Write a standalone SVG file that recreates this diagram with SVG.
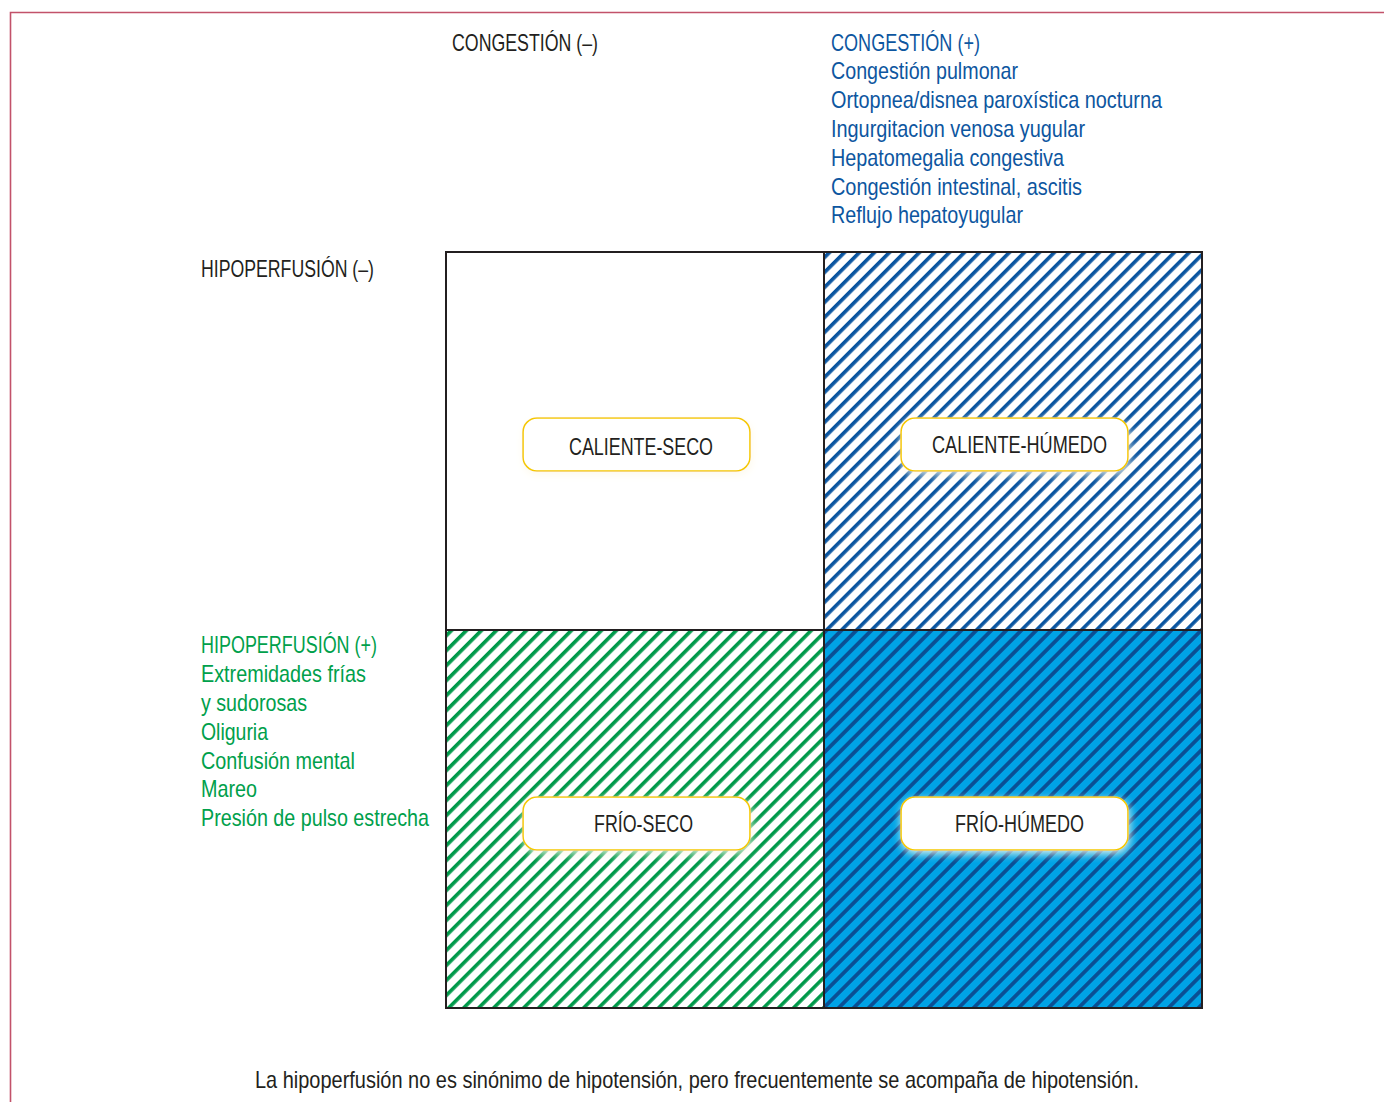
<svg xmlns="http://www.w3.org/2000/svg" width="1384" height="1102" viewBox="0 0 1384 1102">
<style>
text{font-family:"Liberation Sans",Arial,sans-serif;font-size:24px}
.k{fill:#231f20}
.b{fill:#0d56a0}
.g{fill:#00a04b}
.lbl{fill:#231f20;text-anchor:middle}
.box{fill:#ffffff;stroke:#f5c900;stroke-width:1.6;filter:url(#glow)}
.grid{fill:none;stroke:#231f20;stroke-width:2}
</style>
<defs>
<pattern id="hBlue" patternUnits="userSpaceOnUse" width="10.6" height="10.6" patternTransform="rotate(45)">
<rect width="10.6" height="10.6" fill="#ffffff"/>
<rect width="3.6" height="10.6" fill="#0a55a0"/>
</pattern>
<pattern id="hGreen" patternUnits="userSpaceOnUse" width="10.6" height="10.6" patternTransform="rotate(45)">
<rect width="10.6" height="10.6" fill="#ffffff"/>
<rect width="3.6" height="10.6" fill="#00994a"/>
</pattern>
<pattern id="hDark" patternUnits="userSpaceOnUse" width="10.6" height="10.6" patternTransform="rotate(45)">
<rect width="10.6" height="10.6" fill="#00a3e6"/>
<rect width="3.8" height="10.6" fill="#0a4f94"/>
</pattern>
<filter id="glow" x="-20%" y="-50%" width="140%" height="200%">
<feGaussianBlur in="SourceAlpha" stdDeviation="4"/>
<feComponentTransfer><feFuncA type="linear" slope="0.9"/></feComponentTransfer>
<feColorMatrix type="matrix" values="0 0 0 0 0.98  0 0 0 0 0.95  0 0 0 0 0.82  0 0 0 1 0"/>
<feOffset dx="1" dy="3" result="sh"/>
<feMerge><feMergeNode in="sh"/><feMergeNode in="SourceGraphic"/></feMerge>
</filter>
</defs>
<rect width="1384" height="1102" fill="#ffffff"/>
<path d="M10.5 1102 V12.5 H1384" fill="none" stroke="#c2526a" stroke-width="1.6"/>

<g id="quadrants">
<rect id="q-caliente-seco" x="446" y="252" width="378" height="378" fill="#ffffff"/>
<rect id="q-caliente-humedo" x="824" y="252" width="378" height="378" fill="url(#hBlue)"/>
<rect id="q-frio-seco" x="446" y="630" width="378" height="378" fill="url(#hGreen)"/>
<rect id="q-frio-humedo" x="824" y="630" width="378" height="378" fill="url(#hDark)"/>
<rect class="grid" x="446" y="252" width="756" height="756"/>
<line class="grid" x1="824" y1="252" x2="824" y2="1008"/>
<line class="grid" x1="446" y1="630" x2="1202" y2="630"/>
</g>

<g id="connectors"></g>

<g id="congestion-neg"><text class="k" x="452" y="51" textLength="146" lengthAdjust="spacingAndGlyphs">CONGESTIÓN (–)</text></g>
<g id="congestion-pos">
<text class="b" x="831" y="51" textLength="149" lengthAdjust="spacingAndGlyphs">CONGESTIÓN (+)</text>
<text class="b" x="831" y="79" textLength="187" lengthAdjust="spacingAndGlyphs">Congestión pulmonar</text>
<text class="b" x="831" y="108" textLength="331" lengthAdjust="spacingAndGlyphs">Ortopnea/disnea paroxística nocturna</text>
<text class="b" x="831" y="137" textLength="254" lengthAdjust="spacingAndGlyphs">Ingurgitacion venosa yugular</text>
<text class="b" x="831" y="166" textLength="233" lengthAdjust="spacingAndGlyphs">Hepatomegalia congestiva</text>
<text class="b" x="831" y="195" textLength="251" lengthAdjust="spacingAndGlyphs">Congestión intestinal, ascitis</text>
<text class="b" x="831" y="223" textLength="192" lengthAdjust="spacingAndGlyphs">Reflujo hepatoyugular</text>
</g>
<g id="hipoperfusion-neg"><text class="k" x="201" y="277" textLength="173" lengthAdjust="spacingAndGlyphs">HIPOPERFUSIÓN (–)</text></g>
<g id="hipoperfusion-pos">
<text class="g" x="201" y="653" textLength="176" lengthAdjust="spacingAndGlyphs">HIPOPERFUSIÓN (+)</text>
<text class="g" x="201" y="682" textLength="165" lengthAdjust="spacingAndGlyphs">Extremidades frías</text>
<text class="g" x="201" y="711" textLength="106" lengthAdjust="spacingAndGlyphs">y sudorosas</text>
<text class="g" x="201" y="740" textLength="67" lengthAdjust="spacingAndGlyphs">Oliguria</text>
<text class="g" x="201" y="769" textLength="154" lengthAdjust="spacingAndGlyphs">Confusión mental</text>
<text class="g" x="201" y="797" textLength="56" lengthAdjust="spacingAndGlyphs">Mareo</text>
<text class="g" x="201" y="826" textLength="228" lengthAdjust="spacingAndGlyphs">Presión de pulso estrecha</text>
</g>

<g id="caliente-seco">
<rect class="box" x="523" y="418" width="227" height="53" rx="14"/>
<text class="lbl" x="641" y="455" textLength="144" lengthAdjust="spacingAndGlyphs">CALIENTE-SECO</text>
</g>
<g id="caliente-humedo">
<rect class="box" x="901" y="418" width="227" height="53" rx="14"/>
<text class="lbl" x="1019.5" y="453" textLength="175" lengthAdjust="spacingAndGlyphs">CALIENTE-HÚMEDO</text>
</g>
<g id="frio-seco">
<rect class="box" x="523" y="797" width="227" height="53" rx="14"/>
<text class="lbl" x="643.5" y="832" textLength="99" lengthAdjust="spacingAndGlyphs">FRÍO-SECO</text>
</g>
<g id="frio-humedo">
<rect class="box" x="901" y="797" width="227" height="53" rx="14"/>
<text class="lbl" x="1019.5" y="832" textLength="129" lengthAdjust="spacingAndGlyphs">FRÍO-HÚMEDO</text>
</g>

<g id="footnote"><text class="k" x="697" y="1088" text-anchor="middle" textLength="884" lengthAdjust="spacingAndGlyphs">La hipoperfusión no es sinónimo de hipotensión, pero frecuentemente se acompaña de hipotensión.</text></g>
</svg>
